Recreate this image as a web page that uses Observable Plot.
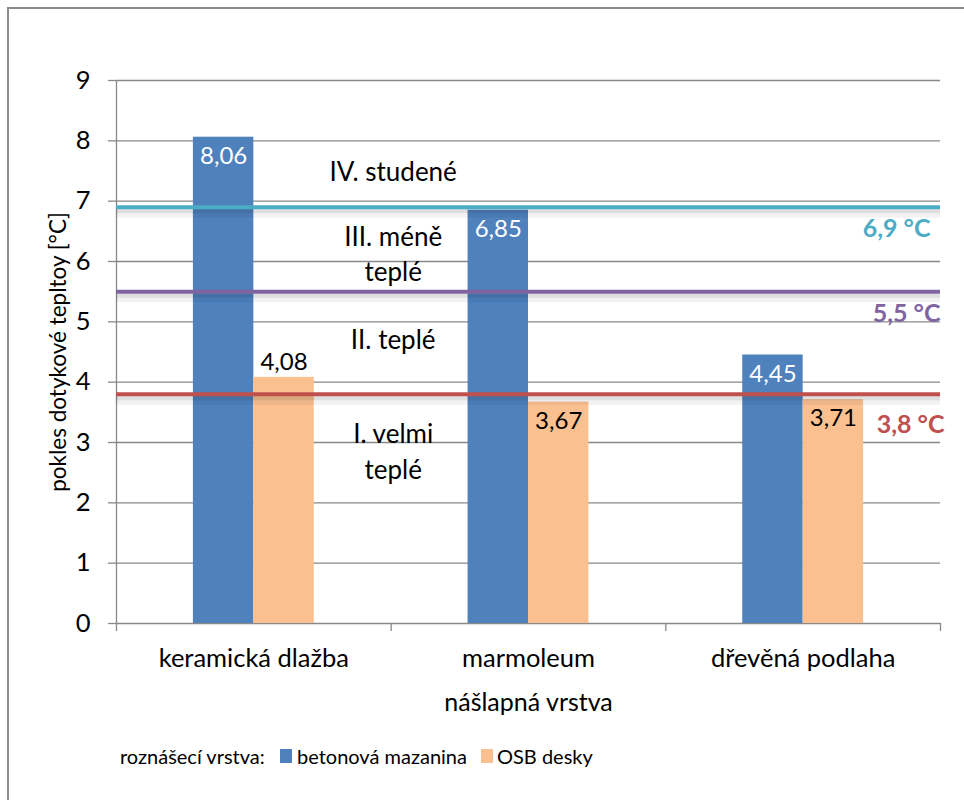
<!DOCTYPE html>
<html>
<head>
<meta charset="utf-8">
<script src="https://cdn.jsdelivr.net/npm/d3@7"></script>
<script src="https://cdn.jsdelivr.net/npm/@observablehq/plot@0.6"></script>
<style>
  html, body { margin: 0; padding: 0; background: #fff; overflow: hidden; width: 964px; height: 800px; }
  #frame { position: absolute; left: 7px; top: 7px; width: 980px; height: 820px; border: 2px solid #8c8c8c; box-sizing: border-box; }
  #chart { position: absolute; left: 0; top: 0; }
  #legend { position: absolute; left: 0; top: 720px; width: 964px; height: 80px; font-family: Lato, sans-serif; font-size: 20px; color: #000; }
  #legend span { position: absolute; white-space: nowrap; line-height: 24px; }
  #legend .sw { width: 12px; height: 14px; }
</style>
</head>
<body>
<div id="frame"></div>
<div id="chart"></div>
<div id="legend"></div>
<script>
// ---- data ----
const categories = ["keramická dlažba", "marmoleum", "dřevěná podlaha"];
const seriesNames = ["betonová mazanina", "OSB desky"];
const seriesColors = ["#4F81BD", "#FAC090"];
const betonValues = [8.06, 6.85, 4.45];
const osbValues = [4.08, 3.67, 3.71];
const yTicks = [0, 1, 2, 3, 4, 5, 6, 7, 8, 9];
const refValues = [6.9, 5.5, 3.8];
const refColors = ["#4BACC6", "#8064A2", "#C0504D"];
const zoneLabels = ["IV. studené", "III. méně\nteplé", "II. teplé", "I. velmi\nteplé"];
const zoneY = [7.52, 6.16, 4.74, 2.88];
const yTitle = "pokles dotykové tepltoy [°C]";
const xTitle = "nášlapná vrstva";
const legendTitle = "roznášecí vrstva:";

// ---- table ----
const barW = 0.22;
const rows = [];
categories.forEach((cat, i) => {
  [betonValues, osbValues].forEach((vals, s) => {
    rows.push({cat, i, s, series: seriesNames[s], value: vals[i],
      x1: s === 0 ? i + 0.5 - barW : i + 0.5,
      x2: s === 0 ? i + 0.5 : i + 0.5 + barW});
  });
});
const fmt = v => d3.format(".2f")(v).replace(".", ",");
const labelAbove = d => d.i === 0 && d.s === 1;
const refs = refValues.map((v, k) => ({v, color: refColors[k], label: String(v).replace(".", ",") + " °C"}));
const refDx = [-10, 0, 4];
const refDy = [22, 22, 31];
const zones = zoneLabels.map((t, k) => ({t, y: zoneY[k]}));
const gridColor = "#898989";

const chart = Plot.plot({
  width: 964,
  height: 720,
  marginLeft: 116,
  marginRight: 24,
  marginTop: 80,
  marginBottom: 97,
  x: {domain: [0, 3], axis: null},
  y: {domain: [0, 9], axis: null, label: null},
  style: {fontFamily: "Lato, sans-serif", fontSize: "25px", color: "#000", background: "transparent", overflow: "visible"},
  marks: [
    Plot.ruleY(yTicks, {stroke: gridColor, strokeWidth: 1.3}),
    Plot.ruleX([0], {y1: 0, y2: 9, stroke: gridColor, strokeWidth: 1.3}),
    Plot.axisY(yTicks, {tickSize: 8, tickPadding: 18, tickFormat: d => String(d), stroke: gridColor, strokeWidth: 1.3, fill: "#000", label: null, fontSize: 25.5}),
    Plot.axisX([0, 1, 2, 3], {tickSize: 8, tickFormat: () => "", stroke: gridColor, strokeWidth: 1.3, label: null}),
    Plot.axisX([0.5, 1.5, 2.5], {tickSize: 0, tickPadding: 25, tickFormat: d => categories[Math.floor(d)], fill: "#000", label: null, fontSize: 25.5}),
    Plot.rectY(rows, {x1: "x1", x2: "x2", y1: 0, y2: "value", fill: d => seriesColors[d.s]}),
    // soft shadows under reference lines
    Plot.ruleY(refs, {y: "v", stroke: "#000", strokeOpacity: 0.05, strokeWidth: 9, dy: 6}),
    Plot.ruleY(refs, {y: "v", stroke: "#000", strokeOpacity: 0.08, strokeWidth: 4, dy: 4}),
    Plot.ruleY(refs, {y: "v", stroke: "color", strokeWidth: 4}),
    ...refs.map((r, k) => Plot.text([r], {x: 3, y: "v", text: "label", fill: "color", fontWeight: "bold", fontSize: 25, textAnchor: "end", dx: refDx[k], dy: refDy[k]})),
    Plot.text(rows.filter(d => !labelAbove(d)), {x: d => (d.x1 + d.x2) / 2, y: "value", text: d => fmt(d.value), fill: d => d.s === 0 ? "#fff" : "#000", fontSize: 24, dy: 19}),
    Plot.text(rows.filter(labelAbove), {x: d => (d.x1 + d.x2) / 2, y: "value", text: d => fmt(d.value), fill: "#000", fontSize: 24, dy: -15}),
    Plot.text(zones, {x: 1, y: "y", text: "t", fill: "#000", fontSize: 26, lineHeight: 1.35, dx: 2}),
    Plot.text([yTitle], {frameAnchor: "left", rotate: -90, dx: -58, textAnchor: "middle", text: d => d, fill: "#000", fontSize: 22.5}),
    Plot.text([xTitle], {frameAnchor: "bottom", lineAnchor: "middle", dy: 79, text: d => d, fill: "#000", fontSize: 25})
  ]
});
document.getElementById("chart").appendChild(chart);

// ---- legend ----
const legend = document.getElementById("legend");
const add = (txt, left, top, cls, bg) => {
  const s = document.createElement("span");
  s.textContent = txt || "";
  s.style.left = left + "px";
  s.style.top = top + "px";
  if (cls) s.className = cls;
  if (bg) s.style.background = bg;
  legend.appendChild(s);
};
add(legendTitle, 120, 24);
add("", 280, 29, "sw", seriesColors[0]);
add(seriesNames[0], 297, 24);
add("", 481, 29, "sw", seriesColors[1]);
add(seriesNames[1], 497, 24);
</script>
</body>
</html>
